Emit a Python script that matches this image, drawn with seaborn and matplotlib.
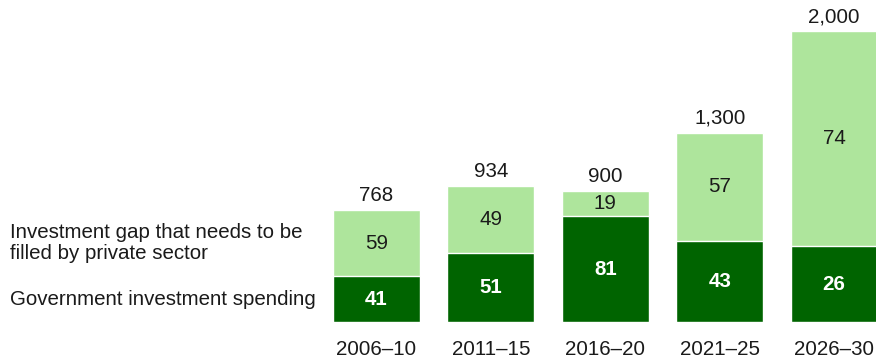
import seaborn as sns
import matplotlib.pyplot as plt
import pandas as pd

# Investment totals per period, split into government share vs private gap (%)
periods = ['2006–10', '2011–15', '2016–20', '2021–25', '2026–30']
totals = [768, 934, 900, 1300, 2000]
total_labels = ['768', '934', '900', '1,300', '2,000']
gov_pct = [41, 51, 81, 43, 26]
gap_pct = [59, 49, 19, 57, 74]

series_labels = ['Investment gap that needs to be\nfilled by private sector',
                 'Government investment spending']

light = '#AEE59C'
dark = '#006400'

df = pd.DataFrame({'period': periods, 'total': totals, 'gov_pct': gov_pct, 'gap_pct': gap_pct})
df['gov'] = df['total'] * df['gov_pct'] / 100

sns.set_style('white')
plt.rcParams['font.family'] = ['Liberation Sans', 'DejaVu Sans']
fs = 14.8

fig = plt.figure(figsize=(8.76, 3.62), dpi=100)
ax = fig.add_axes([0, 40 / 362, 1, 322 / 362])

sns.barplot(data=df, x='period', y='total', color=light, width=0.76, saturation=1, ax=ax)
sns.barplot(data=df, x='period', y='gov', color=dark, width=0.76, saturation=1,
            edgecolor='white', linewidth=1, ax=ax)

ax.set_xlim(-3.291, 4.366)
ax.set_ylim(0, 2215)
sns.despine(ax=ax, left=True, bottom=True)
ax.set_yticks([])
ax.set_xlabel('')
ax.set_ylabel('')
ax.tick_params(axis='x', length=0, pad=13, labelsize=fs, labelcolor='#1a1a1a')

for i, row in df.iterrows():
    ax.annotate(total_labels[i], (i, row['total']), xytext=(0, 10.5), textcoords='offset points',
                ha='center', va='center', fontsize=fs, color='#1a1a1a')
    ax.text(i, (row['gov'] + row['total']) / 2, str(row['gap_pct']), ha='center', va='center',
            fontsize=fs, color='#1a1a1a')
    ax.text(i, row['gov'] / 2, str(row['gov_pct']), ha='center', va='center',
            fontsize=fs, color='white', fontweight='bold')

first = df.iloc[0]
ax.text(10 / 876, (first['gov'] + first['total']) / 2, series_labels[0],
        transform=ax.get_yaxis_transform(), ha='left', va='center', fontsize=fs,
        color='#1a1a1a', linespacing=1.15)
ax.text(10 / 876, first['gov'] / 2, series_labels[1],
        transform=ax.get_yaxis_transform(), ha='left', va='center', fontsize=fs,
        color='#1a1a1a')

fig.savefig('out.png', dpi=100)
